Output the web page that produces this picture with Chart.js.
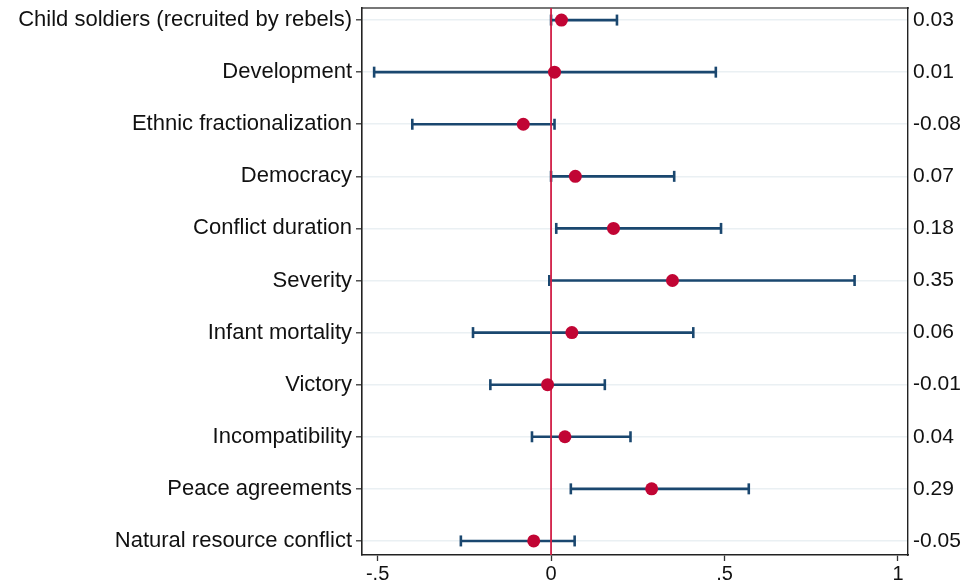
<!DOCTYPE html>
<html>
<head>
<meta charset="utf-8">
<script src="https://cdn.jsdelivr.net/npm/chart.js@4.4.1/dist/chart.umd.min.js"></script>
<style>
html,body{margin:0;padding:0;background:#fff;}
#wrap{width:969px;height:585px;position:relative;}
</style>
</head>
<body>
<div id="wrap"><canvas id="c"></canvas></div>
<script>
const categories = [
  "Child soldiers (recruited by rebels)",
  "Development",
  "Ethnic fractionalization",
  "Democracy",
  "Conflict duration",
  "Severity",
  "Infant mortality",
  "Victory",
  "Incompatibility",
  "Peace agreements",
  "Natural resource conflict"
];
const estimates = [0.03, 0.01, -0.08, 0.07, 0.18, 0.35, 0.06, -0.01, 0.04, 0.29, -0.05];
const ciLow  = [0.00, -0.51, -0.40, 0.00, 0.015, -0.005, -0.225, -0.175, -0.055, 0.057, -0.26];
const ciHigh = [0.19, 0.475, 0.01, 0.355, 0.49, 0.875, 0.41, 0.155, 0.229, 0.57, 0.068];
const coefLabels = ["0.03","0.01","-0.08","0.07","0.18","0.35","0.06","-0.01","0.04","0.29","-0.05"];
const xTicks = [-0.5, 0, 0.5, 1];
const xTickLabels = ["-.5", "0", ".5", "1"];

const NAVY = '#1a476f';
const RED = '#c10534';
const FONT = "'Liberation Sans', Arial, Helvetica, sans-serif";

const datasets = [];
datasets.push({
  label: 'est',
  data: estimates.map((v, i) => ({x: v, y: i})),
  showLine: false,
  pointRadius: 6.5,
  pointHoverRadius: 6.5,
  pointBackgroundColor: RED,
  pointBorderWidth: 0,
  order: 0
});
datasets.push({
  label: 'zero',
  data: [{x: 0, y: -0.23}, {x: 0, y: 10.27}],
  showLine: true,
  borderColor: '#d21f47',
  borderWidth: 1.8,
  pointRadius: 0,
  order: 1
});
categories.forEach((c, i) => {
  datasets.push({
    label: c,
    data: [{x: ciLow[i], y: i}, {x: ciHigh[i], y: i}],
    showLine: true,
    borderColor: NAVY,
    borderWidth: 2.6,
    pointStyle: 'line',
    pointRotation: 90,
    pointRadius: 5.5,
    pointHoverRadius: 5.5,
    pointBorderColor: NAVY,
    pointBorderWidth: 2.6,
    order: 2
  });
});

const yIdx = categories.map((_, i) => i);
const noPad = s => { s.paddingTop = 0; s.paddingBottom = 0; };

new Chart(document.getElementById('c'), {
  type: 'scatter',
  data: {datasets},
  options: {
    responsive: true,
    maintainAspectRatio: false,
    animation: false,
    events: [],
    layout: {padding: {top: 0, right: 0, bottom: 0, left: 0}},
    plugins: {legend: {display: false}, tooltip: {enabled: false}},
    scales: {
      x: {
        type: 'linear',
        position: 'bottom',
        min: -0.545,
        max: 1.029,
        afterBuildTicks: s => { s.ticks = xTicks.map(v => ({value: v})); },
        afterFit: s => { s.height = 30; s.paddingLeft = 0; s.paddingRight = 0; },
        ticks: {
          callback: (v) => { const k = xTicks.indexOf(v); return k >= 0 ? xTickLabels[k] : ''; },
          font: {family: FONT, size: 20},
          color: '#111',
          padding: 1,
          maxRotation: 0
        },
        grid: {drawOnChartArea: false, drawTicks: true, tickLength: 6, tickColor: '#333', tickWidth: 1.3},
        border: {display: true, color: '#222', width: 1.6}
      },
      x2: {
        type: 'linear',
        position: 'top',
        min: -0.545,
        max: 1.029,
        ticks: {display: false},
        grid: {display: false, drawTicks: false},
        afterFit: s => { s.height = 7; s.paddingLeft = 0; s.paddingRight = 0; },
        border: {display: true, color: '#777', width: 2}
      },
      y: {
        type: 'linear',
        position: 'left',
        reverse: true,
        min: -0.23,
        max: 10.27,
        afterBuildTicks: s => { s.ticks = yIdx.map(v => ({value: v})); },
        afterFit: s => { s.width = 362; noPad(s); },
        ticks: {
          callback: v => categories[v] !== undefined ? categories[v] : '',
          font: {family: FONT, size: 22},
          color: '#111',
          padding: 4
        },
        grid: {color: '#eaf0f3', lineWidth: 1.6, drawTicks: true, tickLength: 6, tickColor: '#333', tickWidth: 1.3},
        border: {display: true, color: '#222', width: 1.6}
      },
      y2: {
        type: 'linear',
        position: 'right',
        reverse: true,
        min: -0.23,
        max: 10.27,
        afterBuildTicks: s => { s.ticks = yIdx.map(v => ({value: v})); },
        afterFit: s => { s.width = 61; noPad(s); },
        ticks: {
          callback: v => coefLabels[v] !== undefined ? coefLabels[v] : '',
          font: {family: FONT, size: 21},
          color: '#111',
          padding: 5
        },
        grid: {display: false, drawTicks: false},
        border: {display: true, color: '#222', width: 1.4}
      }
    }
  }
});
</script>
</body>
</html>
